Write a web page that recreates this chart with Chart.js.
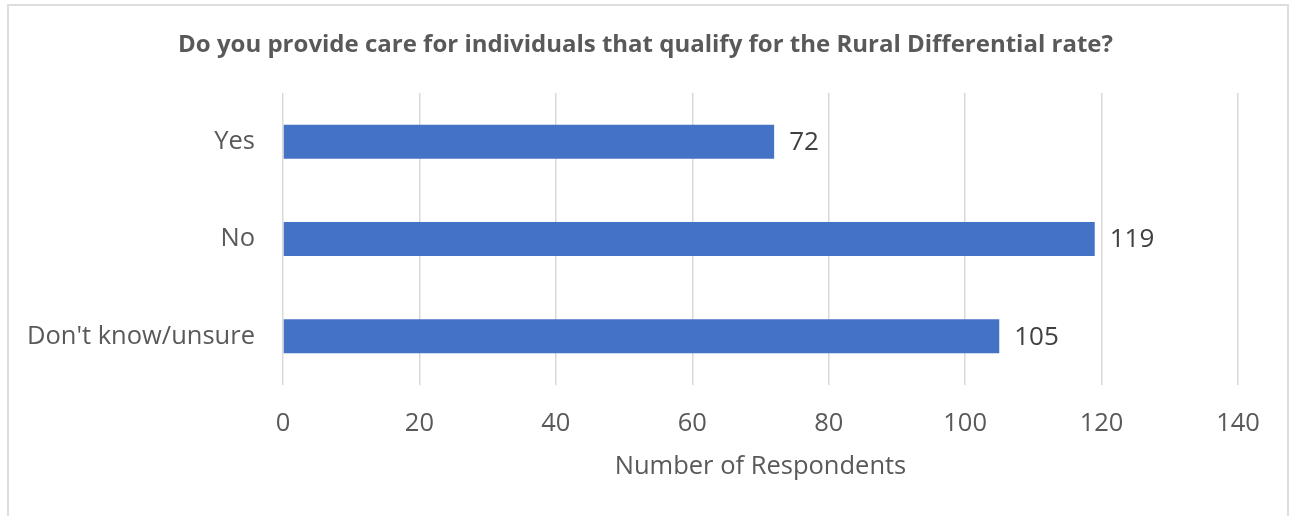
<!DOCTYPE html>
<html>
<head>
<meta charset="utf-8">
<script src="https://cdn.jsdelivr.net/npm/chart.js@4"></script>
<style>
  html, body { margin: 0; padding: 0; background: #fff; }
  #wrap { position: relative; width: 1289px; height: 516px; overflow: hidden; }
  #frame {
    position: absolute; left: 7px; top: 4px; width: 1278px; height: 600px;
    border: 2px solid #dedede; pointer-events: none;
  }
</style>
</head>
<body>
<div id="wrap">
  <canvas id="chart" width="1289" height="516"></canvas>
  <div id="frame"></div>
</div>
<script>
const categories = ['Yes', 'No', "Don't know/unsure"];
const respondents = [72, 119, 105];
const xTicks = [0, 20, 40, 60, 80, 100, 120, 140];
const chartTitle = 'Do you provide care for individuals that qualify for the Rural Differential rate?';

const FONT = "'Open Sans', 'DejaVu Sans', sans-serif";
const barBlue = '#4472C4';
const textGray = '#595959';

// value labels to the right of each bar
const barValueLabels = {
  id: 'barValueLabels',
  afterDatasetsDraw(chart) {
    const { ctx } = chart;
    const meta = chart.getDatasetMeta(0);
    ctx.save();
    ctx.font = `26px ${FONT}`;
    ctx.fillStyle = '#404040';
    ctx.textAlign = 'left';
    ctx.textBaseline = 'middle';
    meta.data.forEach((bar, i) => {
      ctx.fillText(String(respondents[i]), bar.x + 15, bar.y + 1);
    });
    ctx.restore();
  }
};

// title centred on the whole canvas rather than the padded layout box
const centredTitle = {
  id: 'centredTitle',
  afterDraw(chart) {
    const { ctx, width } = chart;
    ctx.save();
    ctx.font = `bold 24px ${FONT}`;
    ctx.fillStyle = textGray;
    ctx.textAlign = 'center';
    ctx.textBaseline = 'middle';
    ctx.fillText(chartTitle, width / 2 + 1, 45);
    ctx.restore();
  }
};

new Chart(document.getElementById('chart'), {
  type: 'bar',
  data: {
    labels: categories,
    datasets: [{
      data: respondents,
      backgroundColor: barBlue,
      borderWidth: 0,
      barPercentage: 0.35,
      categoryPercentage: 1
    }]
  },
  options: {
    indexAxis: 'y',
    responsive: false,
    animation: false,
    layout: { padding: { left: 0, right: 51, top: 93, bottom: 0 } },
    plugins: {
      legend: { display: false },
      tooltip: { enabled: false },
      title: { display: false }
    },
    scales: {
      x: {
        min: 0,
        max: 140,
        afterBuildTicks: scale => { scale.ticks = xTicks.map(v => ({ value: v })); },
        afterFit: scale => { scale.height = 131; },
        grid: { color: '#d9d9d9', lineWidth: 1.5, drawTicks: false },
        border: { display: false },
        ticks: {
          color: textGray,
          padding: 23,
          font: { family: FONT, size: 25.5 }
        },
        title: {
          display: true,
          text: 'Number of Respondents',
          color: textGray,
          font: { family: FONT, size: 25.5, lineHeight: 1.2 },
          padding: { top: 0, bottom: 34 }
        }
      },
      y: {
        afterFit: scale => { scale.width = 283; },
        grid: { display: false, drawTicks: false },
        border: { display: false },
        ticks: {
          color: textGray,
          padding: 28,
          font: { family: FONT, size: 25.5 }
        }
      }
    }
  },
  plugins: [barValueLabels, centredTitle]
});
</script>
</body>
</html>
